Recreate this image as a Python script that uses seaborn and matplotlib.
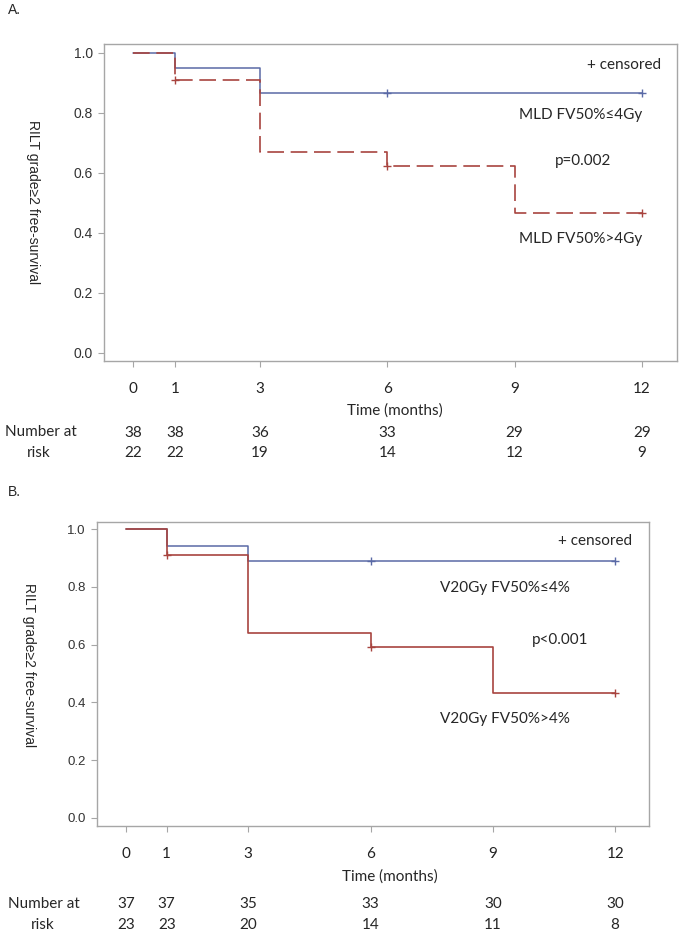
import numpy as np
import pandas as pd
import matplotlib
matplotlib.use("Agg")
import matplotlib.pyplot as plt
import seaborn as sns

sns.set_theme(style="white")
plt.rcParams['font.family'] = ['Lato', 'DejaVu Sans']

# ---------------- data ----------------
ticks = [0, 1, 3, 6, 9, 12]

# Panel A (MLD)
a_low_t = [0, 1, 3, 12]
a_low_s = [1.0, 0.949, 0.868, 0.868]
a_low_cens_t = [6, 12]
a_low_cens_s = [0.868, 0.868]
a_high_t = [0, 1, 3, 6, 9, 12]
a_high_s = [1.0, 0.909, 0.671, 0.624, 0.468, 0.468]
a_high_cens_t = [1, 6, 12]
a_high_cens_s = [0.909, 0.624, 0.468]
a_risk_low = [38, 38, 36, 33, 29, 29]
a_risk_high = [22, 22, 19, 14, 12, 9]

# Panel B (V20Gy)
b_low_t = [0, 1, 3, 12]
b_low_s = [1.0, 0.941, 0.890, 0.890]
b_low_cens_t = [6, 12]
b_low_cens_s = [0.890, 0.890]
b_high_t = [0, 1, 3, 6, 9, 12]
b_high_s = [1.0, 0.910, 0.639, 0.592, 0.431, 0.431]
b_high_cens_t = [1, 6, 12]
b_high_cens_s = [0.910, 0.592, 0.431]
b_risk_low = [37, 37, 35, 33, 30, 30]
b_risk_high = [23, 23, 20, 14, 11, 8]

BLUE = "#5a6aa6"
RED = "#a8443f"
GRAY = "#a6a6a6"

W, H = 679, 932
fig = plt.figure(figsize=(W / 100, H / 100), dpi=100)


def px_axes(l, t, r, b):
    return fig.add_axes([l / W, (H - b) / H, (r - l) / W, (b - t) / H])


def draw_panel(ax, low_t, low_s, lc_t, lc_s, high_t, high_s, hc_t, hc_s,
               high_ls, xlim, ylim, ytick_fs):
    d_low = pd.DataFrame({"t": low_t, "s": low_s})
    d_high = pd.DataFrame({"t": high_t, "s": high_s})
    sns.lineplot(data=d_low, x="t", y="s", ax=ax, color=BLUE, lw=1.1,
                 drawstyle="steps-post", estimator=None, sort=False)
    sns.lineplot(data=d_high, x="t", y="s", ax=ax, color=RED, lw=1.2,
                 drawstyle="steps-post", estimator=None, sort=False,
                 linestyle=high_ls)
    sns.scatterplot(x=lc_t, y=lc_s, ax=ax, marker="+", color=BLUE, s=28,
                    linewidth=1.0, zorder=5)
    sns.scatterplot(x=hc_t, y=hc_s, ax=ax, marker="+", color=RED, s=28,
                    linewidth=1.0, zorder=5)
    ax.set_xlim(*xlim)
    ax.set_ylim(*ylim)
    ax.set_xticks(ticks)
    ax.set_xticklabels([str(t) for t in ticks], fontsize=11)
    ax.set_yticks([0, 0.2, 0.4, 0.6, 0.8, 1.0])
    ax.set_yticklabels(["0.0", "0.2", "0.4", "0.6", "0.8", "1.0"],
                       fontsize=ytick_fs, family=["Liberation Sans"],
                       color="#333333")
    ax.tick_params(axis="x", direction="out", length=4, width=0.8,
                   color=GRAY, pad=11, bottom=True, labelcolor="#222222")
    ax.tick_params(axis="y", direction="out", length=4, width=0.8,
                   color=GRAY, pad=4, left=True)
    for sp in ax.spines.values():
        sp.set_color(GRAY)
        sp.set_linewidth(1.0)
        sp.set_visible(True)
    ax.set_xlabel("")
    ax.set_ylabel("")
    ax.grid(False)


def fig_text(x, y, s, **kw):
    fig.text(x / W, (H - y) / H, s, **kw)


def data_fig_text(ax, xd, ypix, s, **kw):
    ax.annotate(s, xy=(xd, H - ypix), xycoords=("data", "figure pixels"),
                annotation_clip=False, **kw)


# ---------------- Panel A ----------------
axA = px_axes(104, 44, 677, 361)
draw_panel(axA, a_low_t, a_low_s, a_low_cens_t, a_low_cens_s,
           a_high_t, a_high_s, a_high_cens_t, a_high_cens_s,
           (0, (10, 4)), (-0.68, 12.83), (-0.027, 1.03), 10)

fig_text(8, 10, "A.", fontsize=10, family=["Liberation Sans"], va="center")
fig_text(33, 202, "RILT grade≥2 free-survival", rotation=270, fontsize=10,
         family=["Liberation Sans", "DejaVu Sans"], ha="center", va="center")
axA.text(12.45, 0.96, "+ censored", ha="right", va="center", fontsize=11)
axA.text(12.0, 0.793, "MLD FV50%≤4Gy", ha="right", va="center", fontsize=11)
axA.text(10.61, 0.64, "p=0.002", ha="center", va="center", fontsize=11)
axA.text(12.0, 0.38, "MLD FV50%>4Gy", ha="right", va="center", fontsize=11)

data_fig_text(axA, 6.18, 411, "Time (months)", ha="center", va="center",
              fontsize=11)
fig_text(41, 432, "Number at", ha="center", va="center", fontsize=11)
fig_text(39, 453, "risk", ha="center", va="center", fontsize=11)
for t, n1, n2 in zip(ticks, a_risk_low, a_risk_high):
    data_fig_text(axA, t, 433, str(n1), ha="center", va="center", fontsize=11)
    data_fig_text(axA, t, 453, str(n2), ha="center", va="center", fontsize=11)

# ---------------- Panel B ----------------
axB = px_axes(97, 522, 649, 826)
draw_panel(axB, b_low_t, b_low_s, b_low_cens_t, b_low_cens_s,
           b_high_t, b_high_s, b_high_cens_t, b_high_cens_s,
           "-", (-0.71, 12.83), (-0.028, 1.025), 9.5)

fig_text(8, 492, "B.", fontsize=10, family=["Liberation Sans"], va="center")
fig_text(29, 665, "RILT grade≥2 free-survival", rotation=270, fontsize=10,
         family=["Liberation Sans", "DejaVu Sans"], ha="center", va="center")
axB.text(12.42, 0.958, "+ censored", ha="right", va="center", fontsize=11)
axB.text(9.29, 0.796, "V20Gy FV50%≤4%", ha="center", va="center", fontsize=11)
axB.text(10.65, 0.616, "p<0.001", ha="center", va="center", fontsize=11)
axB.text(9.29, 0.343, "V20Gy FV50%>4%", ha="center", va="center", fontsize=11)

data_fig_text(axB, 6.48, 877, "Time (months)", ha="center", va="center",
              fontsize=11)
fig_text(44, 904, "Number at", ha="center", va="center", fontsize=11)
fig_text(43, 925, "risk", ha="center", va="center", fontsize=11)
for t, n1, n2 in zip(ticks, b_risk_low, b_risk_high):
    data_fig_text(axB, t, 904, str(n1), ha="center", va="center", fontsize=11)
    data_fig_text(axB, t, 925, str(n2), ha="center", va="center", fontsize=11)

fig.savefig("out.png", dpi=100)
